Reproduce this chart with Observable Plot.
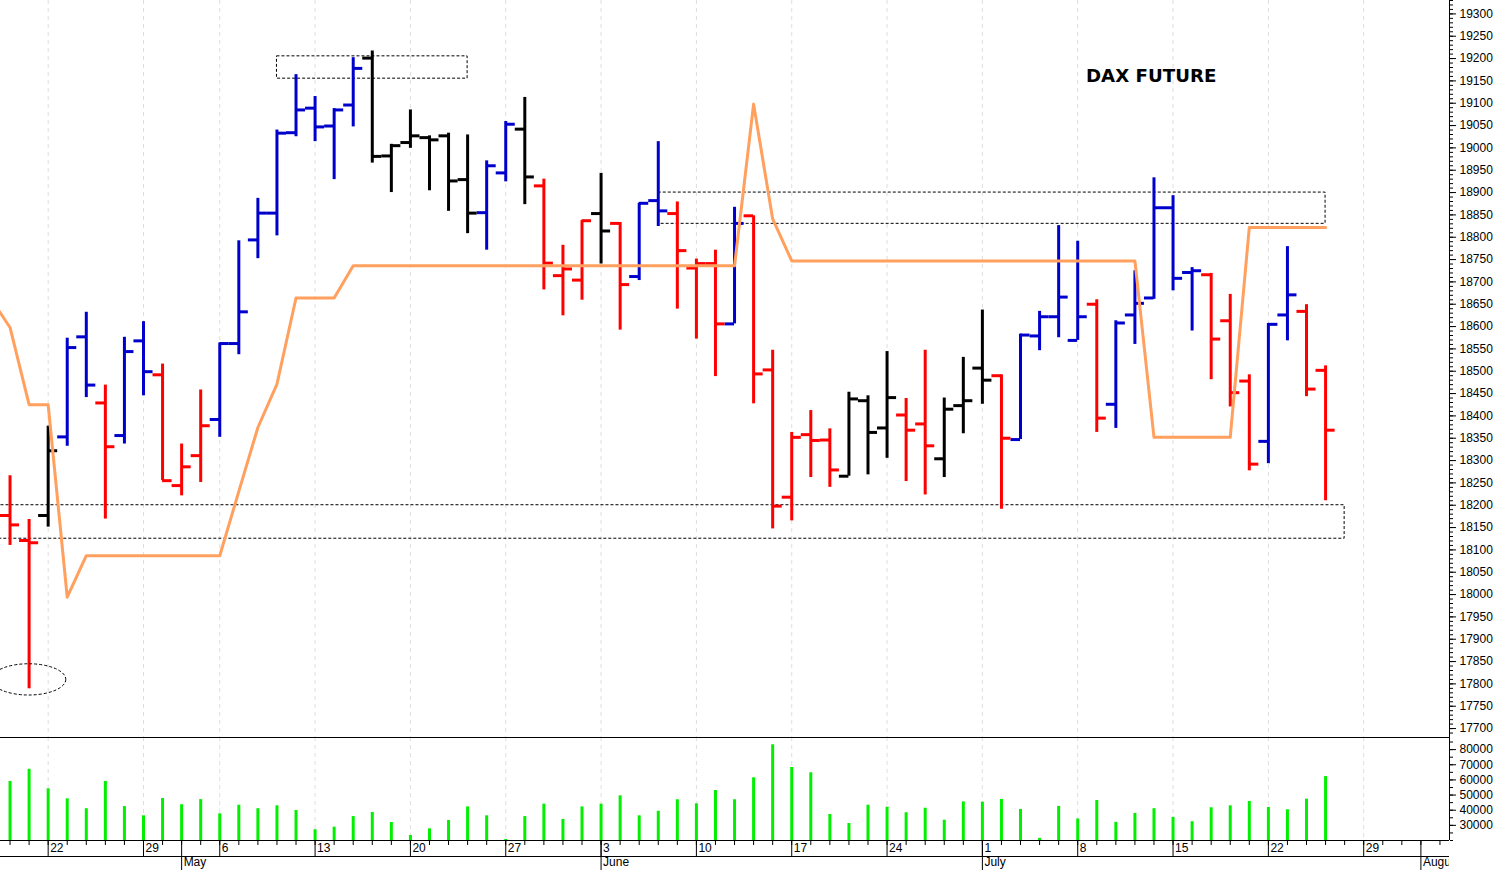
<!DOCTYPE html>
<html>
<head>
<meta charset="utf-8">
<script src="https://cdn.jsdelivr.net/npm/d3@7"></script>
<script src="https://cdn.jsdelivr.net/npm/@observablehq/plot@0.6"></script>
<style>
  html, body { margin: 0; padding: 0; background: #fff; overflow: hidden; }
  #wrap { position: relative; width: 1497px; height: 870px; }
  #title { position: absolute; left: 1086px; top: 67px; font: bold 18.2px "DejaVu Sans", sans-serif; line-height: 1; color: #000; white-space: nowrap; }
  #chart svg { display: block; }
</style>
</head>
<body>
<div id="wrap">
  <div id="chart"></div>
  <div id="title">DAX FUTURE</div>
</div>
<script>
// ---------- categories: trading days on the x axis ----------
const days = [
  "2024-04-17","2024-04-18","2024-04-19",
  "2024-04-22","2024-04-23","2024-04-24","2024-04-25","2024-04-26",
  "2024-04-29","2024-04-30","2024-05-02","2024-05-03",
  "2024-05-06","2024-05-07","2024-05-08","2024-05-09","2024-05-10",
  "2024-05-13","2024-05-14","2024-05-15","2024-05-16","2024-05-17",
  "2024-05-20","2024-05-21","2024-05-22","2024-05-23","2024-05-24",
  "2024-05-27","2024-05-28","2024-05-29","2024-05-30","2024-05-31",
  "2024-06-03","2024-06-04","2024-06-05","2024-06-06","2024-06-07",
  "2024-06-10","2024-06-11","2024-06-12","2024-06-13","2024-06-14",
  "2024-06-17","2024-06-18","2024-06-19","2024-06-20","2024-06-21",
  "2024-06-24","2024-06-25","2024-06-26","2024-06-27","2024-06-28",
  "2024-07-01","2024-07-02","2024-07-03","2024-07-04","2024-07-05",
  "2024-07-08","2024-07-09","2024-07-10","2024-07-11","2024-07-12",
  "2024-07-15","2024-07-16","2024-07-17","2024-07-18","2024-07-19",
  "2024-07-22","2024-07-23","2024-07-24","2024-07-25","2024-07-26",
  "2024-07-29","2024-07-30","2024-07-31","2024-08-01","2024-08-02"
];
const monthNames = ["January","February","March","April","May","June","July","August","September","October","November","December"];

// ---------- OHLC bars (from 2024-04-18) ----------
const barStart = "2024-04-18";
const opens = [
  18177,18121,18177,18353,18577,18429,18356,18568,18492,18244,
  18311,18392,18562,18794,18854,19034,19089,19049,19096,19201,
  18982,19012,19023,19027,18929,18855,18944,19042,18915,18714,
  18704,18853,18831,18712,18882,18853,18731,18741,18606,18848,
  18503,18218,18358,18346,18265,18434,18373,18402,18382,18304,
  18423,18507,18490,18347,18579,18622,18569,18650,18426,18626,
  18664,18866,18721,18716,18613,18478,18343,18626,18634,18502
];
const highs = [
  18266,18168,18377,18574,18632,18469,18576,18611,18516,18337,
  18458,18563,18792,18887,19040,19164,19115,19088,19202,19217,
  19008,19085,19027,19033,19029,18971,19059,19113,18930,18782,
  18837,18943,18833,18876,19014,18879,18751,18771,18867,18848,
  18547,18363,18412,18371,18453,18445,18544,18439,18547,18440,
  18531,18637,18492,18583,18634,18826,18791,18660,18613,18725,
  18933,18893,18732,18719,18672,18492,18607,18779,18649,18512
];
const lows = [
  18110,17789,18151,18332,18441,18169,18337,18445,18255,18221,
  18251,18352,18537,18752,18803,19025,19014,18929,19047,18966,
  18900,18999,18904,18858,18808,18771,18924,18873,18682,18624,
  18659,18740,18592,18703,18824,18639,18572,18488,18606,18427,
  18147,18165,18262,18240,18265,18268,18305,18253,18223,18262,
  18360,18426,18191,18347,18546,18575,18569,18363,18372,18560,
  18661,18680,18590,18481,18420,18277,18293,18568,18443,18210
];
const closes = [
  18156,18116,18322,18553,18469,18331,18544,18499,18255,18286,
  18378,18562,18633,18854,19033,19085,19047,19085,19178,18981,
  19005,19027,19018,18926,18854,18960,19053,18935,18742,18729,
  18837,18814,18694,18876,18859,18770,18741,18606,18831,18494,
  18198,18352,18345,18279,18438,18363,18441,18368,18333,18415,
  18434,18480,18350,18581,18622,18666,18622,18395,18608,18652,
  18866,18708,18725,18572,18452,18292,18605,18671,18460,18368
];
const barType = [
  "down","down","flat","up","up","down","up","up","down","down",
  "down","up","up","up","up","up","up","up","up","flat",
  "flat","flat","flat","flat","flat","up","up","flat","down","down",
  "down","flat","down","up","up","down","down","down","up","down",
  "down","down","down","down","flat","flat","flat","down","down","flat",
  "flat","flat","down","up","up","up","up","down","up","up",
  "up","up","up","down","down","down","up","up","down","down"
];
const volumes = [
  59000,67000,54100,47500,41000,59000,42400,36300,47700,43600,
  47000,37600,43300,41000,42900,39800,27100,28800,35800,38500,
  31900,23300,27700,33200,42200,36300,20700,35800,44000,33900,
  42200,44000,49500,36300,39300,46900,44200,53000,46900,61400,
  83200,68200,64700,37200,31200,43300,42000,38300,41300,33400,
  45500,45300,47100,40500,21400,42500,34200,46400,32000,37900,
  41000,35300,32400,41600,42900,45800,41800,40300,47300,62200
];

// ---------- orange signal line (from 2024-04-17) ----------
const signalStart = "2024-04-17";
const signal = [
  18662,18598,18425,18425,17994,18087,18087,18087,18087,18087,
  18087,18087,18087,18231,18374,18471,18664,18664,18664,18736,
  18736,18736,18736,18736,18736,18736,18736,18736,18736,18736,
  18736,18736,18736,18736,18736,18736,18736,18736,18736,18736,
  19098,18841,18747,18747,18747,18747,18747,18747,18747,18747,
  18747,18747,18747,18747,18747,18747,18747,18747,18747,18747,
  18747,18352,18352,18352,18352,18352,18822,18822,18822,18822,
  18822
];

// ---------- annotations ----------
const zones = [
  {from: "2024-05-09", to: "2024-05-23", low: 19155, high: 19205},
  {from: "2024-06-06", to: "2024-07-25", low: 18830, high: 18900},
  {from: "2024-04-17", to: "2024-07-26", low: 18125, high: 18200}
];
const lowMark = {date: "2024-04-19", price: 17809, halfDays: 1.95, halfPrice: 35};

// ---------- axis ticks ----------
const priceDomain = [17680, 19330];
const priceTicks = d3.range(17700, 19301, 50);
const priceMinor = d3.range(17690, 19331, 10);
const volumeDomain = [20000, 88000];
const volumeTicks = d3.range(30000, 80001, 10000);
const volumeMinor = d3.range(20000, 85001, 5000);

// ---------- derived tables ----------
const dayIndex = new Map(days.map((d, i) => [d, i]));
const b0 = dayIndex.get(barStart);
const bars = opens.map((o, k) => ({i: b0 + k, o, h: highs[k], l: lows[k], c: closes[k], t: barType[k], v: volumes[k]}));
const s0 = dayIndex.get(signalStart);
const signalData = signal.map((v, k) => ({i: s0 + k, v}));
const zoneData = zones.map(z => ({x1: dayIndex.get(z.from), x2: dayIndex.get(z.to), low: z.low, high: z.high}));
const dateOf = s => new Date(s + "T00:00:00Z");
const visibleDays = days.map((d, i) => i).filter(i => i >= 1);
const mondays = visibleDays.filter(i => dateOf(days[i]).getUTCDay() === 1);
const monthStarts = visibleDays.filter(i => days[i].slice(5, 7) !== days[i - 1].slice(5, 7));

// ---------- layout ----------
const W = 1497, axisW = 48, priceH = 737, volH = 133, axisRowsH = 30;
const xDomain = [0.5, days.length - 0.5];
const tickLen = 0.5;
const font = "'Liberation Sans', Arial, sans-serif";
const gridStyle = {stroke: "#dedede", strokeDasharray: "4,4"};

const price = Plot.plot({
  width: W, height: priceH,
  marginTop: 0, marginBottom: 0, marginLeft: 0, marginRight: axisW,
  style: {fontFamily: font, fontSize: "12px", color: "#000", background: "#fff"},
  x: {type: "linear", domain: xDomain, axis: null},
  y: {type: "linear", domain: priceDomain, axis: null},
  color: {domain: ["up", "down", "flat"], range: ["#0000cc", "#ff0000", "#000000"]},
  marks: [
    Plot.ruleX(mondays, gridStyle),
    Plot.rect(zoneData, {x1: "x1", x2: "x2", y1: "low", y2: "high", fill: "none", stroke: "#000", strokeWidth: 1, strokeDasharray: "3,2", clip: true}),
    Plot.ruleX(bars, {x: "i", y1: "l", y2: "h", stroke: "t", strokeWidth: 3}),
    Plot.ruleY(bars, {y: "o", x1: d => d.i - tickLen, x2: "i", stroke: "t", strokeWidth: 3}),
    Plot.ruleY(bars, {y: "c", x1: "i", x2: d => d.i + tickLen, stroke: "t", strokeWidth: 3}),
    Plot.line(signalData, {x: "i", y: "v", stroke: "#ffa05f", strokeWidth: 3, clip: true}),
    Plot.ruleX([xDomain[1]], {stroke: "#000"}),
    Plot.axisY({ticks: priceMinor, anchor: "right", tickSize: 3, tickFormat: () => "", label: null}),
    Plot.axisY({ticks: priceTicks, anchor: "right", tickSize: 6, tickPadding: 4, tickFormat: d => String(d), label: null})
  ]
});

const volume = Plot.plot({
  width: W, height: volH,
  marginTop: 0, marginBottom: axisRowsH, marginLeft: 0, marginRight: axisW,
  style: {fontFamily: font, fontSize: "12px", color: "#000", background: "#fff"},
  x: {type: "linear", domain: xDomain, axis: null},
  y: {type: "linear", domain: volumeDomain, axis: null},
  marks: [
    Plot.ruleX(mondays, gridStyle),
    Plot.ruleX(bars, {x: "i", y1: volumeDomain[0], y2: "v", stroke: "#00f000", strokeWidth: 3}),
    Plot.ruleY([volumeDomain[1]], {stroke: "#000"}),
    Plot.ruleY([volumeDomain[0]], {stroke: "#000"}),
    Plot.ruleY([volumeDomain[0]], {stroke: "#000", dy: 16}),
    Plot.ruleX([xDomain[1]], {stroke: "#000"}),
    Plot.axisX({ticks: visibleDays, tickSize: 5, tickFormat: () => "", label: null}),
    Plot.axisX({ticks: mondays, tickSize: 16, tickFormat: () => "", label: null}),
    Plot.axisX({ticks: monthStarts, tickSize: 30, tickFormat: () => "", label: null}),
    Plot.text(mondays, {x: d => d, frameAnchor: "bottom", text: d => String(+days[d].slice(8)), dx: 2, dy: 11, textAnchor: "start"}),
    Plot.text(monthStarts, {x: d => d, frameAnchor: "bottom", text: d => monthNames[+days[d].slice(5, 7) - 1], dx: 2, dy: 25, textAnchor: "start"}),
    Plot.axisY({ticks: volumeMinor, anchor: "right", tickSize: 3, tickFormat: () => "", label: null}),
    Plot.axisY({ticks: volumeTicks, anchor: "right", tickSize: 6, tickPadding: 4, tickFormat: d => String(d), label: null})
  ]
});

document.getElementById("chart").append(price, volume);

// dashed ellipse round the April low, placed through the plot's own scales
const xs = price.scale("x"), ys = price.scale("y");
const fx = d3.scaleLinear(xs.domain, xs.range), fy = d3.scaleLinear(ys.domain, ys.range);
const li = dayIndex.get(lowMark.date);
d3.select(price).append("ellipse")
  .attr("cx", fx(li)).attr("cy", fy(lowMark.price))
  .attr("rx", fx(li + lowMark.halfDays) - fx(li))
  .attr("ry", fy(lowMark.price - lowMark.halfPrice) - fy(lowMark.price))
  .attr("fill", "none").attr("stroke", "#000").attr("stroke-width", 1).attr("stroke-dasharray", "3,2");

// month labels are cut at the right edge of the plotting area
const vsel = d3.select(volume);
vsel.append("defs").append("clipPath").attr("id", "monthclip")
  .append("rect").attr("x", 0).attr("y", 0).attr("width", W - axisW).attr("height", volH);
const monthText = vsel.selectAll("text").filter(function () { return monthNames.includes(this.textContent); });
if (!monthText.empty()) {
  const markG = monthText.node().parentNode;
  const holder = vsel.append("g").attr("clip-path", "url(#monthclip)");
  holder.node().appendChild(markG);
}
</script>
</body>
</html>
